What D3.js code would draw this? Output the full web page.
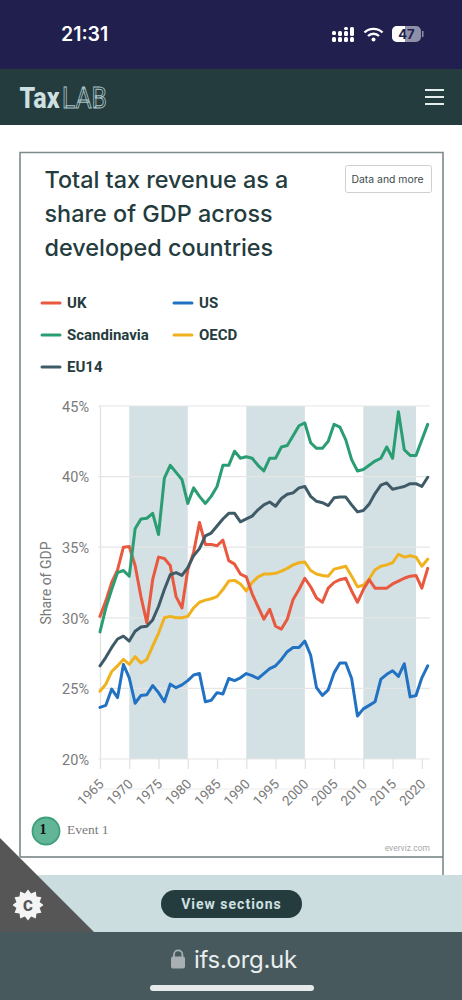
<!DOCTYPE html>
<html><head><meta charset="utf-8">
<script src="https://cdn.jsdelivr.net/npm/d3@7"></script>
<style>html,body{margin:0;padding:0;background:#fff;overflow:hidden}svg{display:block;font-family:Roboto,sans-serif}</style>
</head><body><svg id="c" width="462" height="1000"></svg>
<script>
const years = d3.range(1965, 2022);
const uk = [30.1,31.2,32.5,33.4,35.0,35.05,33.7,31.5,29.65,32.7,34.3,34.2,33.7,31.5,30.7,33.4,34.65,36.75,35.2,35.2,35.1,35.5,34.05,33.8,33.1,32.9,31.7,30.8,29.9,30.6,29.4,29.2,29.9,31.3,32.0,32.8,32.2,31.4,31.1,32.1,32.5,32.7,32.8,31.9,31.1,32.0,32.7,32.1,32.1,32.1,32.4,32.6,32.8,32.95,33.0,32.1,33.5];
const us = [23.65,23.8,24.95,24.35,26.7,25.75,23.95,24.5,24.55,25.2,24.7,24.05,25.3,25.05,25.25,25.55,25.95,26.05,24.05,24.15,24.7,24.6,25.7,25.55,25.75,26.05,25.9,25.7,26.05,26.4,26.6,27.05,27.6,27.9,27.9,28.35,27.35,25.05,24.5,24.9,26.1,26.8,26.8,25.7,23.05,23.55,23.8,24.05,25.65,26.0,26.25,25.85,26.75,24.4,24.5,25.75,26.6];
const scandinavia = [29.0,30.7,32.0,33.2,33.35,32.95,36.3,37.0,37.05,37.4,35.9,39.9,40.8,40.3,39.8,38.1,39.2,38.6,38.1,38.6,39.3,40.8,40.8,41.8,41.3,41.4,41.3,40.8,40.4,41.3,41.3,42.1,42.2,42.9,43.6,43.8,42.4,42.0,42.0,42.5,43.7,43.5,42.6,41.2,40.4,40.5,40.8,41.1,41.3,42.1,41.3,44.6,41.9,41.5,41.5,42.6,43.7];
const oecd = [24.8,25.3,26.2,26.6,27.05,26.7,27.25,26.8,27.05,28.0,28.9,30.0,30.1,30.0,30.0,30.1,30.7,31.1,31.25,31.35,31.5,32.0,32.6,32.65,32.4,31.9,32.5,32.9,33.1,33.1,33.15,33.3,33.5,33.75,33.9,33.95,33.35,33.1,33.0,32.95,33.45,33.55,33.65,32.95,32.2,32.3,32.75,33.4,33.65,33.75,33.9,34.5,34.3,34.4,34.3,33.65,34.15];
const eu14 = [26.6,27.2,27.9,28.5,28.7,28.35,29.05,29.35,29.4,29.85,30.8,32.0,33.05,33.2,33.0,33.55,34.4,34.9,35.8,36.0,36.5,37.0,37.4,37.4,36.8,37.0,37.2,37.65,38.0,38.2,37.9,38.45,38.75,38.85,39.2,39.3,38.6,38.25,38.15,37.95,38.5,38.55,38.55,38.0,37.5,37.6,38.05,38.8,39.4,39.55,39.1,39.2,39.3,39.5,39.5,39.3,39.95];
const seriesNames = ["UK","US","Scandinavia","OECD","EU14"];
const seriesValues = [uk,us,scandinavia,oecd,eu14];
const seriesColors = ["#e8593f","#2272c3","#2a9d72","#efb21e","#3f5b68"];
const drawOrder = [1,3,0,4,2];
const bands = [[1970,1980],[1990,2000],[2010,2019]];
const yTicks = [20,25,30,35,40,45];
const xTicks = [1965,1970,1975,1980,1985,1990,1995,2000,2005,2010,2015,2020];
const titleLines = ["Total tax revenue as a","share of GDP across","developed countries"];

const svg = d3.select("#c");
const dark = "#253c3e";
const R = (x,y,w,h,f)=>svg.append("rect").attr("x",x).attr("y",y).attr("width",w).attr("height",h).attr("fill",f);
const T = (s,x,y,size,fill,opt={})=>{const t=svg.append("text").attr("x",x).attr("y",y).attr("font-size",size).attr("fill",fill).text(s);
  for(const k in opt)t.attr(k,opt[k]);return t;};

// page chrome
R(0,0,462,1000,"#fff");
R(0,0,462,69,"#201f4d");
R(0,69,462,56,dark);
T("21:31",61,41,19.5,"#fff",{"font-family":"Inter","font-weight":600});
const sig=svg.append("g").attr("fill","#fff");
[[332,37,5],[338,37,5],[344,37,5],[350,37,5],[332,31,4],[338,31,5],[344,31,5],[350,27,9],[344,27,3]].forEach(d=>sig.append("rect").attr("x",d[0]).attr("y",d[1]).attr("width",4).attr("height",d[2]).attr("rx",1.5));
const wifi=svg.append("g").attr("fill","none").attr("stroke","#fff").attr("stroke-width",2.4);
wifi.append("path").attr("d","M364.5 32.5 A13 13 0 0 1 382.5 32.5");
wifi.append("path").attr("d","M368 36 A8 8 0 0 1 379 36");
svg.append("circle").attr("cx",373.5).attr("cy",39.5).attr("r",2).attr("fill","#fff");
svg.append("rect").attr("x",392).attr("y",26).attr("width",29).attr("height",16).attr("rx",5).attr("fill","#8f8fa8");
svg.append("path").attr("d","M397 26H405V42H397A5 5 0 0 1 392 37V31A5 5 0 0 1 397 26Z").attr("fill","#fff");
svg.append("rect").attr("x",422).attr("y",31).attr("width",1.5).attr("height",6).attr("fill","#8f8fa8");
T("47",406.5,39,13,"#201f4d",{"text-anchor":"middle","font-family":"Inter","font-weight":700});
T("Tax",19.5,108,29,"#cfe0e2",{"font-family":"'Roboto'","font-weight":800,"textLength":40,"lengthAdjust":"spacingAndGlyphs"});
T("LAB",62,108,29,"none",{"stroke":"#a9c4c8","stroke-width":0.9,"font-family":"Roboto","font-weight":400,"textLength":45,"lengthAdjust":"spacingAndGlyphs"});
[90,97,104].forEach(y=>R(425,y-1,19,2,"#e4ecec"));

// card
svg.append("path").attr("d","M20 857V152.5H443V875").attr("fill","none").attr("stroke","#7c8a8b").attr("stroke-width",1.6);
svg.append("line").attr("x1",20).attr("x2",443).attr("y1",857).attr("y2",857).attr("stroke","#6f7d7e").attr("stroke-width",1.6);
titleLines.forEach((s,i)=>T(s,44.5,188+i*34,23.4,dark,{"font-family":"Inter","font-weight":500,"class":"title"}));
svg.append("rect").attr("x",345.5).attr("y",165.5).attr("width",86).attr("height",27).attr("rx",2).attr("fill","#fff").attr("stroke","#ccd0d0");
T("Data and more",387.5,183,10.4,"#3d4a4b",{"text-anchor":"middle","font-family":"Inter"});

// legend
const legendPos=[[42,303],[174,303],[42,335],[174,335],[42,367]];
seriesNames.forEach((n,i)=>{const [x,y]=legendPos[i];
  svg.append("line").attr("x1",x).attr("x2",x+18).attr("y1",y).attr("y2",y).attr("stroke",seriesColors[i]).attr("stroke-width",3).attr("stroke-linecap","round");
  T(n,x+25,y+5,15,dark,{"font-weight":700});
});

// scales
const x=d3.scaleLinear().domain([1965,2021]).range([100,427.7]);
const y=d3.scaleLinear().domain([20,45]).range([759,406]);

// bands
bands.forEach(b=>R(x(b[0]),y(45),x(b[1])-x(b[0]),y(20)-y(45),"#d3e0e4"));

// y axis + grid
const yAxis=d3.axisLeft(y).tickValues(yTicks).tickSize(0).tickPadding(0).tickFormat(d=>d+"%");
const gy=svg.append("g").attr("transform","translate(89,0)").call(yAxis);
gy.select(".domain").remove();
gy.selectAll("text").attr("font-size",14.5).attr("fill","#7a7a7a").attr("font-family","Roboto").attr("dy","0.36em");
const grid=svg.append("g");
yTicks.forEach(t=>grid.append("line").attr("x1",98).attr("x2",430).attr("y1",y(t)).attr("y2",y(t)).attr("stroke","#e6e6e6").attr("stroke-width",1.2));
grid.append("line").attr("x1",98).attr("x2",430).attr("y1",789).attr("y2",789).attr("stroke","#ececec").attr("stroke-width",1.2);
grid.append("line").attr("x1",x(1965)+.5).attr("x2",x(1965)+.5).attr("y1",406).attr("y2",759).attr("stroke","#e2e2e2").attr("stroke-width",1.2);

// x axis
const xAxis=d3.axisBottom(x).tickValues(xTicks).tickSize(10).tickPadding(0).tickFormat(d3.format("d"));
const gx=svg.append("g").attr("transform","translate(0,759)").call(xAxis);
gx.select(".domain").remove();
gx.selectAll("line").attr("stroke","#e0e0e0").attr("stroke-width",1.2);
gx.selectAll("text").attr("font-size",13.5).attr("fill","#7a7a7a").attr("font-family","Roboto")
  .attr("text-anchor","end").attr("dy",0).attr("y",0)
  .attr("transform","translate(4,26) rotate(-45)");

T("Share of GDP",0,0,14,"#7a7a7a",{"text-anchor":"middle","transform":"translate(51,583) rotate(-90)"});

// lines
const line=d3.line().x((d,i)=>x(years[i])).y(d=>y(d)).curve(d3.curveLinear);
drawOrder.forEach(i=>svg.append("path").attr("d",line(seriesValues[i])).attr("fill","none")
  .attr("stroke",seriesColors[i]).attr("stroke-width",3).attr("stroke-linejoin","round").attr("stroke-linecap","round"));

// event note
svg.append("circle").attr("cx",46).attr("cy",831).attr("r",13.5).attr("fill","#63b598").attr("stroke","#3e9f7a").attr("stroke-width",1.8);
T("1",43,834,14,"#111",{"text-anchor":"middle","font-family":"'Liberation Serif'","font-weight":700});
T("Event 1",67,834,13.5,"#7a7a7a",{"font-family":"'Liberation Serif'"});
T("everviz.com",430,851,8.5,"#aaa",{"text-anchor":"end"});

// bottom
R(0,875,462,57,"#ccdde0");
R(0,932,462,68,"#47595c");
svg.append("path").attr("d","M0 838L94 932H0Z").attr("fill","#565656");
const star=d3.lineRadial().angle((d,i)=>i*Math.PI/12).radius((d,i)=>i%2?12:15.5).curve(d3.curveLinearClosed);
svg.append("path").attr("transform","translate(28,905)").attr("d",star(d3.range(24))).attr("fill","#f4f4f4");
T("C",28,910.5,15,"#565656",{"text-anchor":"middle","font-weight":900});
svg.append("rect").attr("x",161).attr("y",890).attr("width",141).attr("height",28).attr("rx",14).attr("fill",dark);
T("View sections",231.5,909,14,"#cfe0e2",{"text-anchor":"middle","font-weight":700,"letter-spacing":1});
svg.append("path").attr("d","M174 957V954.5A4.2 4.2 0 0 1 182.4 954.5V957").attr("fill","none").attr("stroke","#a8b0b4").attr("stroke-width",1.8);
svg.append("rect").attr("x",171).attr("y",956.5).attr("width",14).attr("height",12).attr("rx",2).attr("fill","#a8b0b4");
T("ifs.org.uk",194,968,24,"#e8eeee",{"font-family":"Inter","letter-spacing":-0.3});
svg.append("rect").attr("x",150).attr("y",985).attr("width",164).attr("height",6).attr("rx",3).attr("fill","#e6eaea");
</script></body></html>
